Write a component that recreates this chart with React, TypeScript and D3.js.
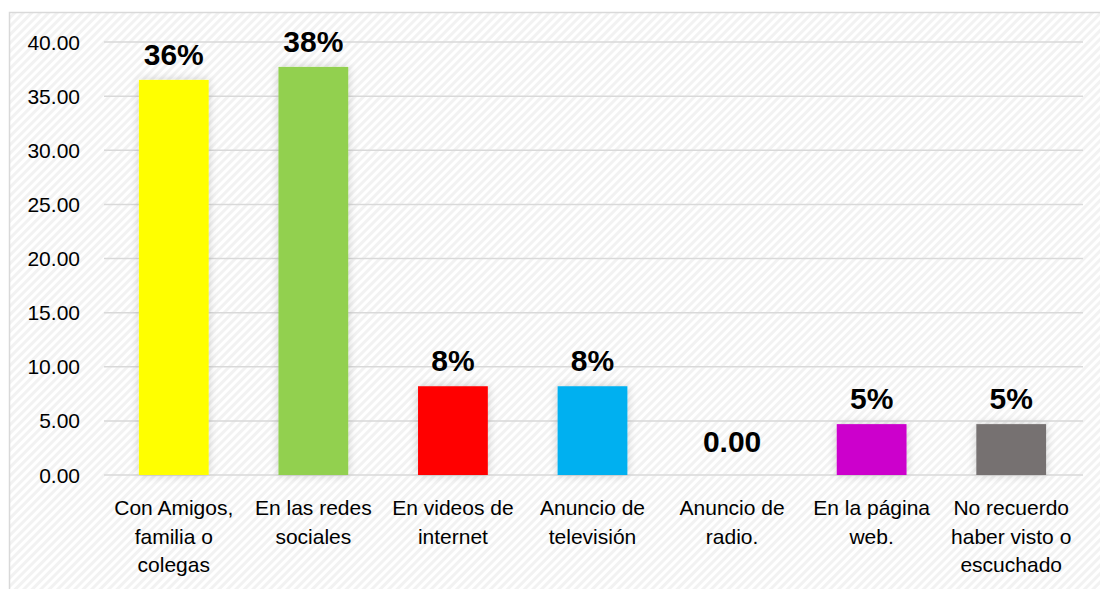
import React from "react";
import * as d3 from "d3";

const categories: string[][] = [
  ["Con Amigos,", "familia o", "colegas"],
  ["En las redes", "sociales"],
  ["En videos de", "internet"],
  ["Anuncio de", "televisión"],
  ["Anuncio de", "radio."],
  ["En la página", "web."],
  ["No recuerdo", "haber visto o", "escuchado"],
];
const values: number[] = [36.5, 37.7, 8.2, 8.2, 0, 4.7, 4.7];
const valueLabels: string[] = ["36%", "38%", "8%", "8%", "0.00", "5%", "5%"];
const barColors: string[] = ["#FFFF00", "#92D050", "#FF0000", "#00B0F0", "#FFFFFF", "#CC00CC", "#767171"];
const yTicks: number[] = [0, 5, 10, 15, 20, 25, 30, 35, 40];

const W = 1100;
const H = 589;
const plotLeft = 104;
const plotRight = 1081;
const plotTop = 42;
const plotBottom = 475;

export default function App() {
  const x = d3
    .scaleBand<number>()
    .domain(d3.range(categories.length))
    .range([plotLeft, plotRight])
    .paddingInner(0.5)
    .paddingOuter(0.25);
  const y = d3.scaleLinear().domain([0, 40]).range([plotBottom, plotTop]);
  const font = "'Liberation Sans', Arial, sans-serif";

  return (
    <svg
      width={W}
      height={H}
      style={{ position: "absolute", left: 0, top: 0, display: "block" }}
    >
      <defs>
        <pattern id="hatch" width="6" height="6" patternUnits="userSpaceOnUse" patternTransform="rotate(45)">
          <rect width="6" height="6" fill="#ffffff" />
          <rect width="3" height="6" fill="#f2f2f2" />
        </pattern>
        <filter id="shadow" x="-30%" y="-30%" width="160%" height="160%">
          <feGaussianBlur in="SourceAlpha" stdDeviation="5" />
          <feComponentTransfer>
            <feFuncA type="linear" slope="0.18" />
          </feComponentTransfer>
          <feMerge>
            <feMergeNode />
            <feMergeNode in="SourceGraphic" />
          </feMerge>
        </filter>
      </defs>
      <rect x={0} y={0} width={W} height={H} fill="#ffffff" />
      <rect x={9.5} y={12.5} width={W} height={H} fill="url(#hatch)" stroke="#d9d9d9" strokeWidth={1.5} />
      {yTicks.map((t) => (
        <g key={t}>
          <line x1={plotLeft} x2={plotRight + 2} y1={y(t)} y2={y(t)} stroke="#d9d9d9" strokeWidth={1.5} />
          <text
            x={80}
            y={y(t)}
            dy="0.36em"
            textAnchor="end"
            fontFamily={font}
            fontSize={21}
            fill="#000"
          >
            {d3.format(".2f")(t)}
          </text>
        </g>
      ))}
      {values.map((v, i) => {
        const bx = x(i) as number;
        const bw = x.bandwidth();
        const top = y(v);
        return (
          <g key={i}>
            {v > 0 && (
              <rect
                x={bx}
                y={top}
                width={bw}
                height={plotBottom - top}
                fill={barColors[i]}
                filter="url(#shadow)"
              />
            )}
            <text
              x={bx + bw / 2}
              y={v > 0 ? top - 15 : top - 23}
              textAnchor="middle"
              fontFamily={font}
              fontWeight="bold"
              fontSize={30}
              fill="#000"
            >
              {valueLabels[i]}
            </text>
            {categories[i].map((line, j) => (
              <text
                key={j}
                x={bx + bw / 2}
                y={515 + j * 28.5}
                textAnchor="middle"
                fontFamily={font}
                fontSize={21}
                fill="#000"
              >
                {line}
              </text>
            ))}
          </g>
        );
      })}
    </svg>
  );
}
